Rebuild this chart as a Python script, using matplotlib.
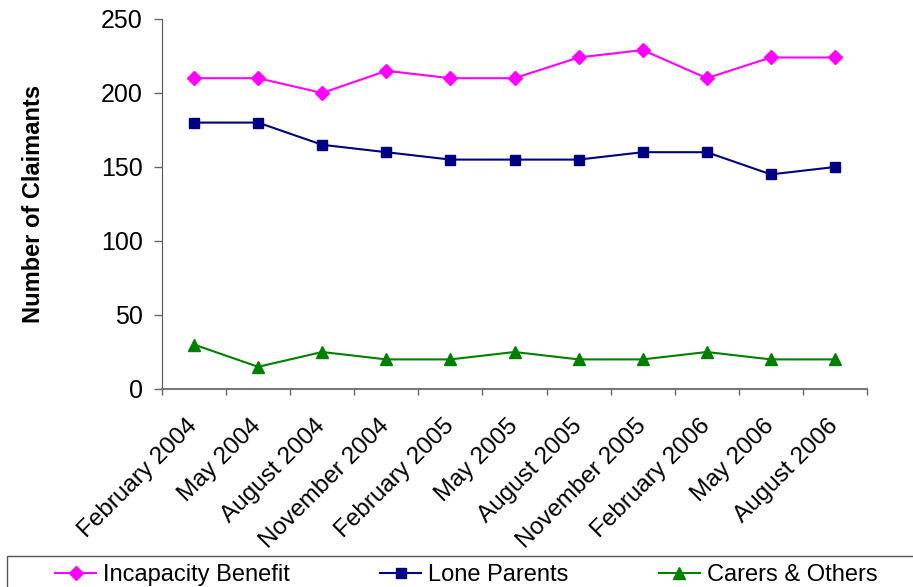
import numpy as np
import matplotlib
matplotlib.use("Agg")
import matplotlib.pyplot as plt
from matplotlib.patches import Rectangle

plt.rcParams["font.family"] = ["Liberation Sans", "DejaVu Sans"]

# data
quarters = ["February 2004", "May 2004", "August 2004", "November 2004",
            "February 2005", "May 2005", "August 2005", "November 2005",
            "February 2006", "May 2006", "August 2006"]
incapacity = [210, 210, 200, 215, 210, 210, 224, 229, 210, 224, 224]
lone_parents = [180, 180, 165, 160, 155, 155, 155, 160, 160, 145, 150]
carers = [30, 15, 25, 20, 20, 25, 20, 20, 25, 20, 20]

W, H = 913, 587
fig = plt.figure(figsize=(W / 100, H / 100), dpi=100)
ax = fig.add_axes([162 / W, 1 - 389 / H, 705 / W, 370 / H])

x = np.arange(len(quarters))
ax.plot(x, incapacity, color="#FF00FF", marker="D", markersize=7, lw=1.5,
        label="Incapacity Benefit")
ax.plot(x, lone_parents, color="#000080", marker="s", markersize=7, lw=1.5,
        label="Lone Parents")
ax.plot(x, carers, color="#008000", marker="^", markersize=8, lw=1.5,
        label="Carers & Others")

ax.set_xlim(-0.5, len(quarters) - 0.5)
ax.set_ylim(0, 250)
ax.set_yticks([0, 50, 100, 150, 200, 250])

# ticks on category boundaries, labels at category centres
ax.set_xticks(np.arange(len(quarters) + 1) - 0.5)
ax.set_xticklabels([])
ax.set_xticks(x, minor=True)
ax.set_xticklabels(quarters, minor=True, rotation=45, ha="right",
                   va="center", rotation_mode="anchor", fontsize=17.5)
ax.tick_params(axis="x", which="major", length=4.5, direction="out",
               color="#666666", width=1)
ax.tick_params(axis="x", which="minor", length=0, pad=24.5)
ax.tick_params(axis="y", length=6, direction="out", color="#666666",
               width=1, labelsize=18, pad=8)

for side in ["top", "right"]:
    ax.spines[side].set_visible(False)
ax.spines["left"].set_color("#555555")
ax.spines["bottom"].set_color("#777777")
ax.spines["bottom"].set_linewidth(1.5)

ax.set_ylabel("Number of Claimants", fontsize=17, fontweight="bold",
              va="center")
ax.yaxis.set_label_coords((33 - 162) / 705, 0.5)

# legend box, cut off at the figure edge like the original
fig.patches.append(Rectangle((7 / W, -0.2), 1.2, 0.2 + 31 / H,
                             transform=fig.transFigure, fill=False,
                             edgecolor="#555555", lw=1))
fig.legend(loc="center left", bbox_to_anchor=(55 / W, 1 - 575 / H), ncol=3,
           frameon=False, fontsize=17, borderpad=0, borderaxespad=0,
           handlelength=1.75, handletextpad=0.3, columnspacing=3.8)

fig.savefig("out.png", dpi=100)
